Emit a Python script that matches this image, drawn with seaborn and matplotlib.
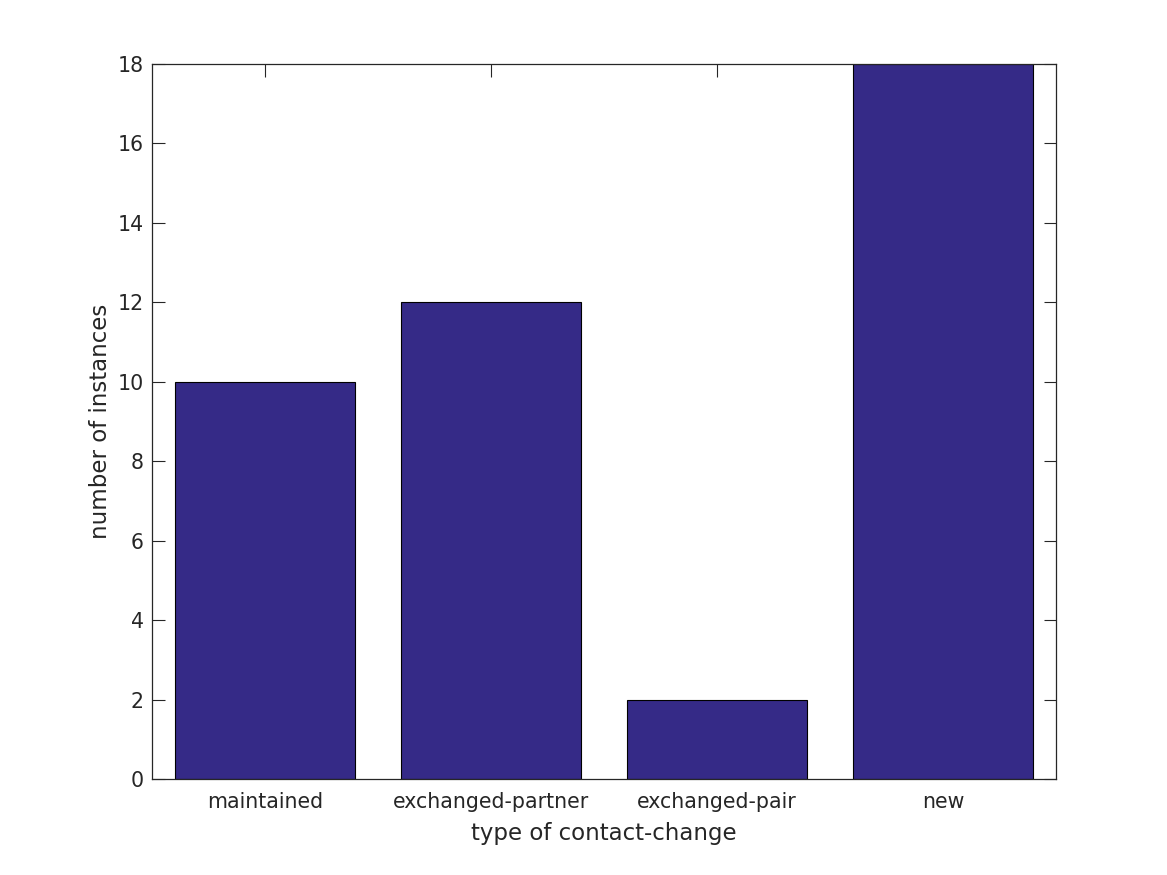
import matplotlib
matplotlib.use("Agg")
import matplotlib.pyplot as plt
import pandas as pd
import seaborn as sns

categories = ["maintained", "exchanged-partner", "exchanged-pair", "new"]
counts = [10, 12, 2, 18]

sns.set_theme(style="white")
plt.rcParams["font.family"] = ["DejaVu Sans"]

TEXT = "#262626"
BAR = "#352A87"

df = pd.DataFrame({"type": categories, "count": counts})

fig = plt.figure(figsize=(11.67, 8.75), dpi=100)
ax = fig.add_axes([0.1302, 0.1097, 0.7746, 0.8172])
sns.barplot(data=df, x="type", y="count", ax=ax, color=BAR, saturation=1,
            width=0.8, edgecolor="black", linewidth=0.8)

ax.set_xlim(-0.5, 3.5)
ax.set_ylim(0, 18)
ax.set_yticks(range(0, 19, 2))
ax.set_xlabel("type of contact-change", fontsize=16.5, color=TEXT, labelpad=7.5)
ax.set_ylabel("number of instances", fontsize=16.5, color=TEXT)
ax.tick_params(direction="in", length=9, width=0.8, colors=TEXT,
               labelsize=14.8, top=True, right=True, bottom=True, left=True,
               pad=6)
ax.tick_params(axis="x", pad=9)
for s in ax.spines.values():
    s.set_visible(True)
    s.set_color(TEXT)
    s.set_linewidth(0.9)

fig.savefig("out.png", dpi=100)
